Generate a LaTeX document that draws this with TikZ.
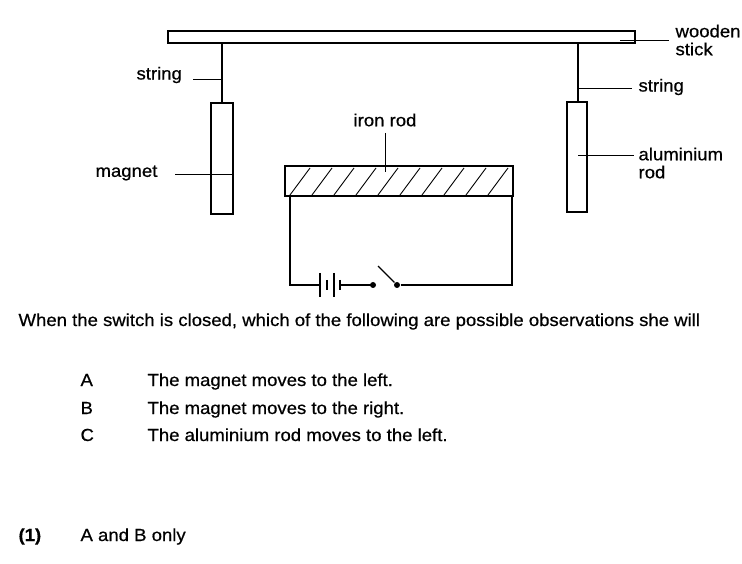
\documentclass[tikz,border=0pt]{standalone}
\usepackage{fontspec}
\setmainfont{Liberation Sans}[FakeStretch=1.06,FakeBold=0.6]
\usetikzlibrary{patterns}
\begin{document}
\begin{tikzpicture}[x=1pt,y=-1pt,line width=1.1pt,
  lbl/.style={inner sep=0pt,anchor=west,font=\fontsize{17.5}{18}\selectfont},
  txt/.style={inner sep=0pt,anchor=base west,font=\fontsize{17.5}{19}\selectfont},
  lead/.style={line width=0.9pt},
  dot/.style={circle,fill=black,inner sep=0pt,minimum size=6pt}]
\useasboundingbox (0,0) rectangle (742,564);
% stick
\draw (168,31) rectangle (635,43);
\coordinate (sl) at (222,43); \coordinate (sr) at (578,43);
\draw (sl) -- (222,103);
\draw (sr) -- (578,102);
\node[draw,minimum width=22pt,minimum height=111pt,inner sep=0pt] (mag) at (222,158.5) {};
\node[draw,minimum width=20pt,minimum height=110pt,inner sep=0pt] (al) at (577,157) {};
% iron rod
\draw (285,166) rectangle (513,196);
\foreach \i in {0,...,9} {\draw[line width=0.9pt] ({290+\i*22},195) -- ({310+\i*22},168);}
% circuit
\coordinate (b1) at (290,196); \coordinate (b2) at (512,196);
\draw (b1) -- (290,285) -- (320,285);
\draw (320,273) -- (320,297);
\draw (327,280) -- (327,290);
\draw (334,273) -- (334,297);
\draw (340,280) -- (340,290);
\draw (340,285) -- (373,285);
\node[dot] (d1) at (373,285) {};
\node[dot] (d2) at (397,285) {};
\draw (d2) -- (378,266);
\draw (d2) -- (512,285) -- (b2);
% labels
\node[lbl] (ls) at (136,75) {string};
\draw[lead] (193,79) -- (222,79);
\node[lbl] (lm) at (95,173) {magnet};
\draw[lead] (175,174) -- (233,174);
\node[lbl,anchor=center] (li) at (385,120) {iron rod};
\draw[lead] (385,133) -- (385,172);
\node[lbl] (rs) at (638,87) {string};
\draw[lead] (578,88) -- (632,88);
\node[lbl,align=left] (ra) at (638,163) {aluminium\\rod};
\draw[lead] (578,155) -- (634,155);
\node[lbl,align=left] (rw) at (675,40) {wooden\\stick};
\draw[lead] (620,40) -- (669,40);
% text
\node[txt] at (18,326) {When the switch is closed, which of the following are possible observations she will};
\node[txt] at (80,386) {A}; \node[txt] at (147,386) {The magnet moves to the left.};
\node[txt] at (80,414) {B}; \node[txt] at (147,414) {The magnet moves to the right.};
\node[txt] at (80,441) {C}; \node[txt] at (147,441) {The aluminium rod moves to the left.};
\node[txt,font=\bfseries\fontsize{17.5}{19}\selectfont] at (18,541) {(1)}; \node[txt] at (80,541) {A and B only};
\end{tikzpicture}
\end{document}
